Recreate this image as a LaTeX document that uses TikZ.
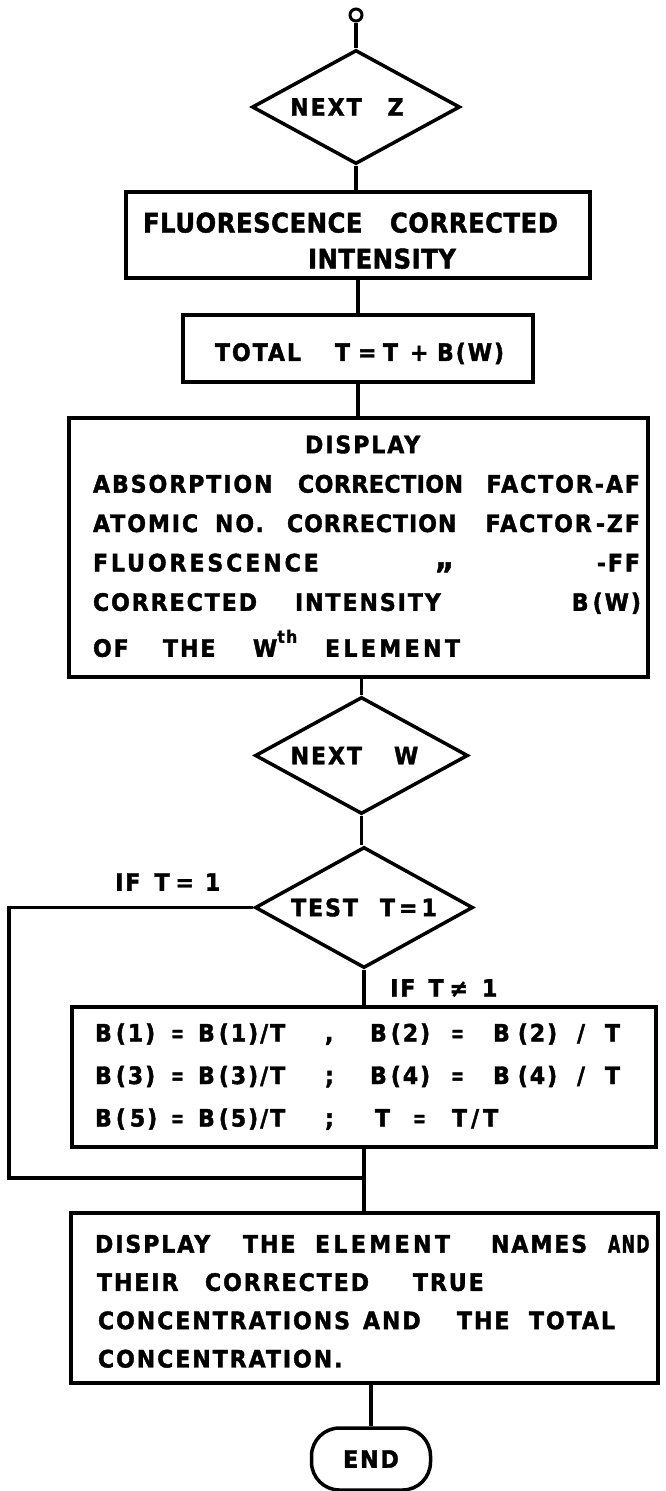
\documentclass[tikz,border=0pt]{standalone}
\usepackage{fontspec}
\usepackage{graphicx}
\usetikzlibrary{shapes.geometric}
\newfontfamily\lett[LetterSpace=8,FakeStretch=0.92,FakeBold=1.6]{DejaVu Sans}
\newfontfamily\lettb[LetterSpace=2,FakeStretch=0.9,FakeBold=1.6]{DejaVu Sans}
\newcommand\putat[2]{\rlap{\hspace*{#1pt}#2}}
\newcommand\putr[2]{\rlap{\hspace*{#1pt}\llap{#2}}}
\newcommand\stru[2]{\vrule height #1pt depth #2pt width 0pt}
\newcommand\lsp[2]{{\addfontfeature{LetterSpace=#1}#2}}
\newcommand\eqn{\scalebox{0.7}[1]{=}}
\tikzset{
  flow/.style={draw=black, line width=3.5pt},
  boxn/.style={flow, rectangle, inner xsep=0pt, inner ysep=0pt, align=left},
  dia/.style={flow, diamond, aspect=1.8, inner sep=0pt,
    font=\lett\bfseries\fontsize{24}{28}\selectfont},
  conn/.style={line width=3.5pt},
  lab/.style={inner sep=0pt, anchor=west, font=\lett\bfseries\fontsize{24}{28}\selectfont},
  stadium/.style={flow, rectangle, rounded corners=28pt, inner sep=0pt,
    font=\lett\bfseries\fontsize{24}{28}\selectfont}
}
\begin{document}
\begin{tikzpicture}[x=1pt,y=-1pt]
\useasboundingbox (0,0) rectangle (666,1491);
\fill[white] (0,0) rectangle (666,1491);

\node[draw=black, circle, line width=3pt, minimum size=12pt, inner sep=0pt] (start) at (356,15) {};

\node[dia, minimum width=208pt, minimum height=114pt] (nz) at (356,107)
  {NEXT\hspace{26pt}Z\hspace*{18pt}};

\node[boxn, text width=464pt, minimum height=86pt,
  font={\lettb\bfseries\fontsize{27}{36}\selectfont}] (fci) at (358,235)
  {\noindent\stru{33}{2}\putat{17}{FLUORESCENCE}\putat{264}{CORRECTED}\\
   \stru{33}{2}\putat{182}{INTENSITY}};

\node[boxn, text width=350pt, minimum height=67pt,
  font={\lett\bfseries\fontsize{24}{28}\selectfont}] (tot) at (358,348.5)
  {\noindent\stru{28}{2}\putat{32}{TOTAL}\putat{152}{T}\putat{175}{=}\putat{200}{T}\putat{227}{+}\putat{254}{B(W)}};

\node[boxn, text width=579pt, minimum height=259pt,
  font={\lett\bfseries\fontsize{24}{39.4}\selectfont}] (disp) at (358.5,547.5)
  {\noindent\stru{21}{6}\putat{236}{DISPLAY}\\
   \stru{21}{6}\putat{24}{ABSORPTION}\putat{229}{\lsp{2}{CORRECTION}}\putr{571}{FACTOR-AF}\\
   \stru{21}{6}\putat{24}{ATOMIC}\putat{146}{NO.}\putat{218}{\lsp{4}{CORRECTION}}\putr{571}{FACTOR\,-ZF}\\
   \stru{21}{6}\putat{24}{\lsp{12}{FLUORESCENCE}}\putat{366}{\raisebox{0.12em}{\fontsize{32}{32}\selectfont „}}\putr{571}{-FF}\\
   \stru{21}{6}\putat{24}{CORRECTED}\putat{226}{INTENSITY}\putr{572}{B\,(W)}\\[6.6pt]
   \stru{21}{6}\putat{24}{OF}\putat{94}{THE}\putat{184}{W\raisebox{14pt}{\fontsize{17}{17}\selectfont th}}\putat{256}{\lsp{14}{ELEMENT}}};

\node[dia, minimum width=213pt, minimum height=117pt] (nw) at (361.5,755.5)
  {NEXT\hspace{32pt}W\hspace*{14pt}};

\node[dia, minimum width=218pt, minimum height=121pt] (test) at (364,907.5)
  {TEST\hspace{22pt}T\hspace{4pt}=\hspace{4pt}1};

\node[boxn, text width=584pt, minimum height=140pt,
  font={\lett\bfseries\fontsize{24}{42.5}\selectfont}] (bbox) at (364,1077)
  {\noindent\stru{21}{7}\putat{23}{B\,(1)}\putat{99}{\eqn}\putat{126}{B\,(1)/T}\putat{253}{,}\putat{298}{B\,(2)}\putat{379}{\eqn}\putat{421}{B\,\,(2)}\putat{505}{/}\putat{533}{T}\\
   \stru{21}{7}\putat{23}{B\,(3)}\putat{99}{\eqn}\putat{126}{B\,(3)/T}\putat{253}{;}\putat{298}{B\,(4)}\putat{379}{\eqn}\putat{421}{B\,\,(4)}\putat{505}{/}\putat{533}{T}\\
   \stru{21}{7}\putat{23}{B\,(\,5)}\putat{99}{\eqn}\putat{126}{B\,(5)/T}\putat{253}{;}\putat{303}{T}\putat{341}{\eqn}\putat{380}{T\,/\,T}};

\node[boxn, text width=587pt, minimum height=170pt,
  font={\lett\bfseries\fontsize{24}{38.3}\selectfont}] (fin) at (364.5,1298)
  {\noindent\stru{27}{3}\putat{24}{DISPLAY}\putat{172}{THE}\putat{244}{\lsp{14}{ELEMENT}}\putat{420}{NAMES}\putat{537}{\scalebox{0.72}[1]{AND}}\\
   \stru{27}{3}\putat{26}{THEIR}\putat{134}{CORRECTED}\putat{342}{TRUE}\\
   \stru{27}{3}\putat{27}{CONCENTRATIONS}\putat{292}{AND}\putat{386}{THE}\putat{458}{TOTAL}\\
   \stru{27}{3}\putat{27}{CONCENTRATION.}};

\node[stadium, minimum width=119pt, minimum height=62pt] (endn) at (371,1459) {END};

\node[lab] (lyes) at (115,882) {IF\hspace{14pt}T\hspace{6pt}=\hspace{11pt}1};
\node[lab] (lno) at (390,988) {IF\hspace{13pt}T\hspace{6pt}≠\hspace{14pt}1};

\coordinate (loopL) at (9,1178);
\coordinate (join) at (bbox.south |- loopL);

\draw[conn] (start.south) -- (start.south |- nz.north);
\draw[conn] (nz.south) -- (nz.south |- fci.north);
\draw[conn] (fci.south) -- (fci.south |- tot.north);
\draw[conn] (tot.south) -- (tot.south |- disp.north);
\draw[conn] (nw.north |- disp.south) -- (nw.north);
\draw[conn] (nw.south) -- (nw.south |- test.north);
\draw[conn] (test.south) -- (test.south |- bbox.north);
\draw[conn] (bbox.south) -- (bbox.south |- fin.north);
\draw[conn] (endn.north |- fin.south) -- (endn.north);
\draw[conn] (test.west) -| (loopL) -- (join);
\end{tikzpicture}
\end{document}
